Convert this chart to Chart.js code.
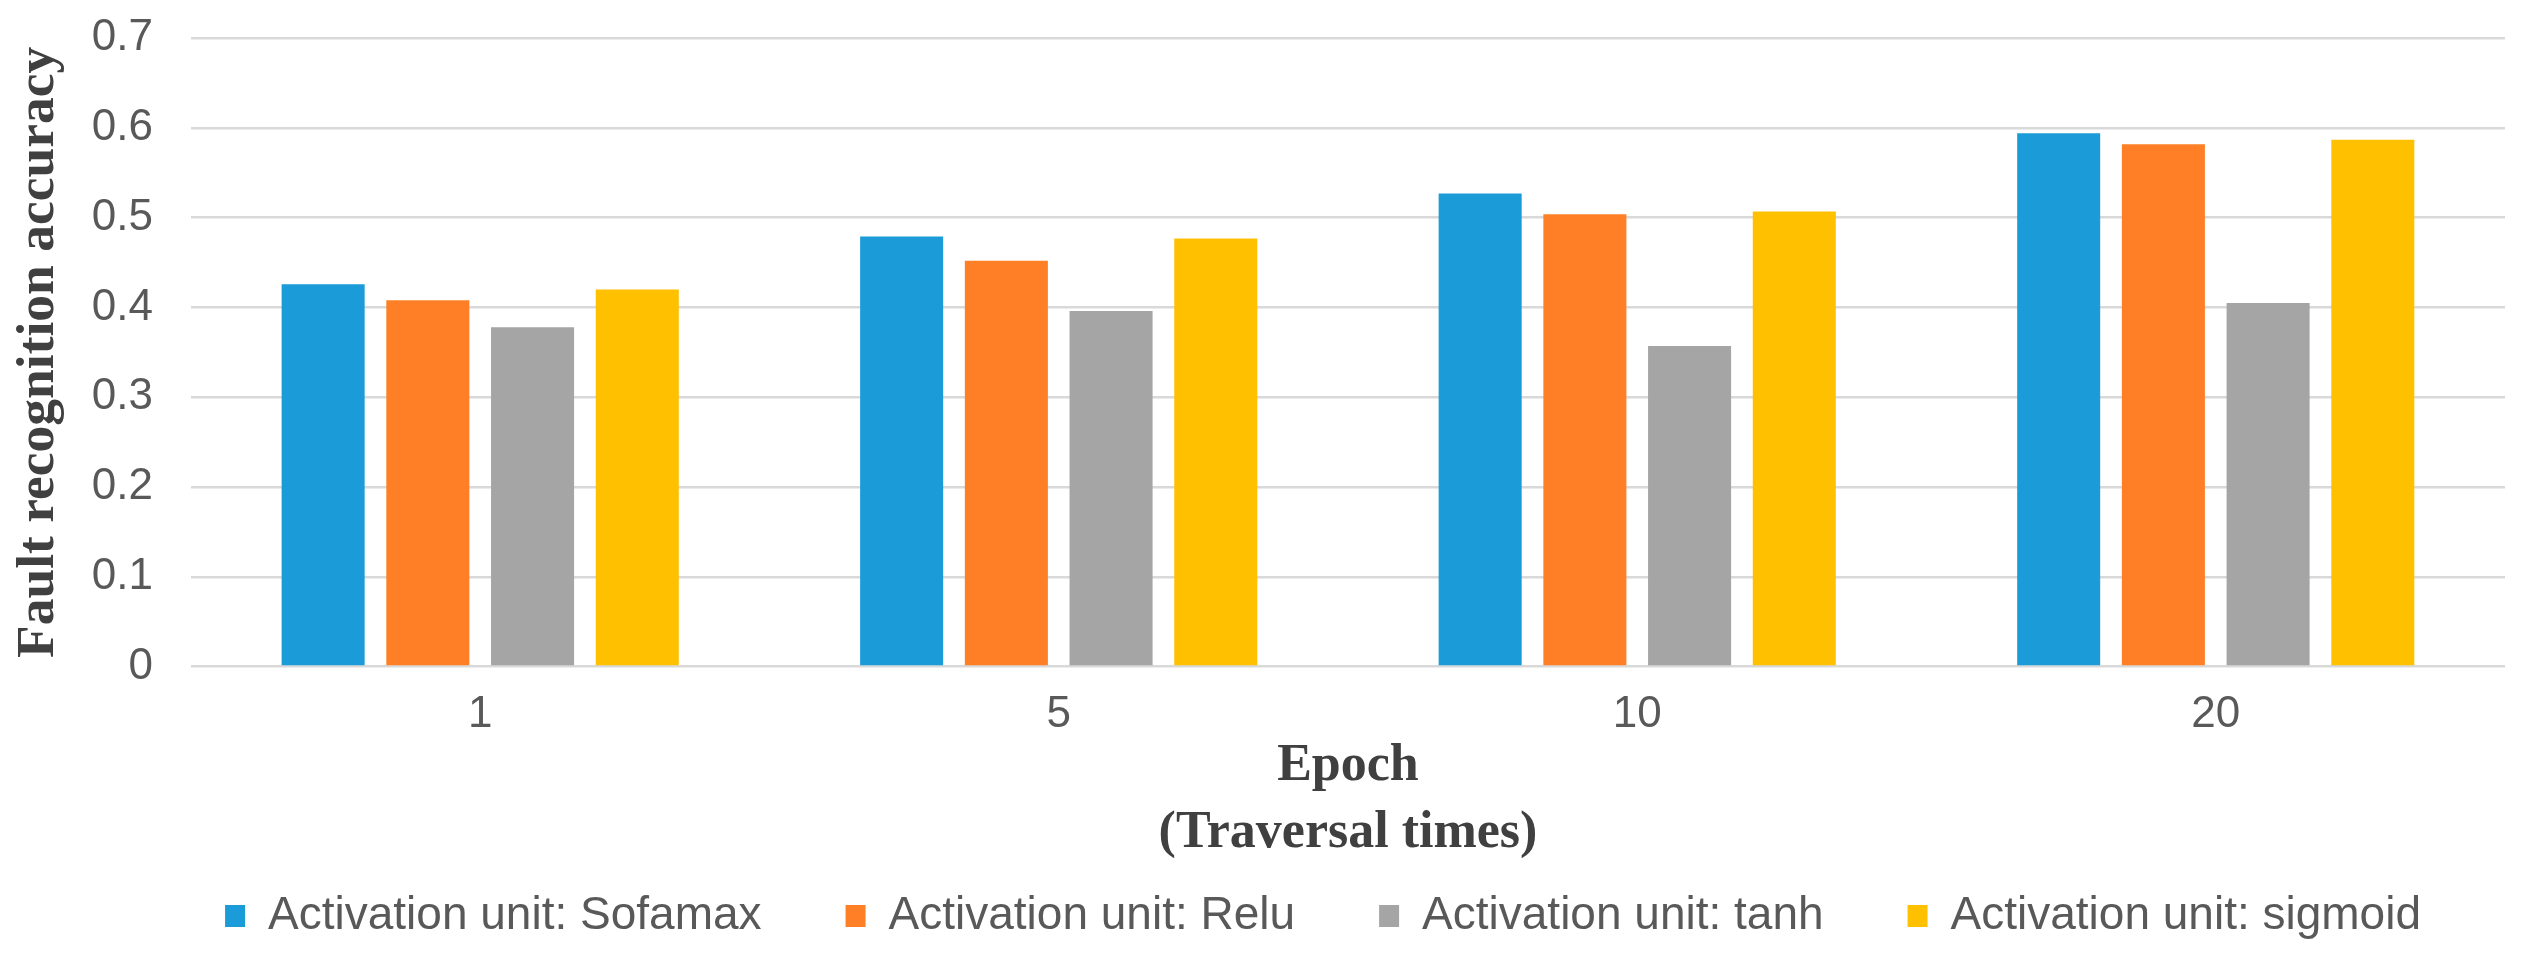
<!DOCTYPE html>
<html>
<head>
<meta charset="utf-8">
<script src="https://cdn.jsdelivr.net/npm/chart.js@4/dist/chart.umd.min.js"></script>
<style>
  body { margin: 0; background: #fff; }
</style>
</head>
<body>
<canvas id="bar-chart" width="2522" height="957"></canvas>
<script>
// values
var epochs = ['1', '5', '10', '20'];
var sofamaxAcc = [0.426, 0.479, 0.527, 0.594];
var reluAcc = [0.408, 0.452, 0.504, 0.582];
var tanhAcc = [0.378, 0.396, 0.357, 0.405];
var sigmoidAcc = [0.420, 0.477, 0.507, 0.587];
var yTickLabels = ['0', '0.1', '0.2', '0.3', '0.4', '0.5', '0.6', '0.7'];

var xTickFont = { family: 'Liberation Sans', size: 44, lineHeight: 0.8 };
// lineHeight ~0 keeps the top label from pushing the plot down
var yTickFont = { family: 'Liberation Sans', size: 44, lineHeight: 0.01 };
var xTitleFont = { family: 'Liberation Serif', size: 52, weight: 'bold', lineHeight: 1.29 };
var yTitleFont = { family: 'Liberation Serif', size: 53.5, weight: 'bold', lineHeight: 1.25 };

var data = {
    labels: epochs,
    datasets: [
        { label: 'Activation unit: Sofamax', data: sofamaxAcc, backgroundColor: '#1b9bd7' },
        { label: 'Activation unit: Relu', data: reluAcc, backgroundColor: '#fe7f26' },
        { label: 'Activation unit: tanh', data: tanhAcc, backgroundColor: '#a5a5a5' },
        { label: 'Activation unit: sigmoid', data: sigmoidAcc, backgroundColor: '#ffc000' }
    ]
};

var options = {
    responsive: false,
    animation: false,
    devicePixelRatio: 1,
    layout: {
        padding: { top: 0, right: 17, bottom: 8, left: 0 }
    },
    datasets: {
        bar: { categoryPercentage: 0.724, barPercentage: 0.793 }
    },
    plugins: {
        tooltip: { enabled: false },
        legend: {
            position: 'bottom',
            align: 'end',
            labels: {
                boxWidth: 20,
                boxHeight: 22,
                padding: 84,
                color: '#595959',
                font: { family: 'Liberation Sans', size: 46 }
            }
        }
    },
    scales: {
        x: {
            grid: { display: false, drawTicks: false },
            border: { display: false },
            ticks: { color: '#595959', font: xTickFont, padding: 31 },
            title: {
                display: true,
                text: ['Epoch', '(Traversal times)'],
                color: '#404040',
                font: xTitleFont,
                padding: { top: -30.9, bottom: -58 }
            }
        },
        y: {
            min: 0,
            max: 0.7,
            border: { display: false },
            grid: { color: '#d9d9d9', lineWidth: 2.5, drawTicks: false },
            ticks: {
                stepSize: 0.1,
                color: '#595959',
                font: yTickFont,
                padding: 38,
                callback: function(value, index) { return yTickLabels[index]; }
            },
            title: {
                display: true,
                text: 'Fault recognition accuracy',
                color: '#404040',
                font: yTitleFont,
                padding: { top: 5.6, bottom: -18.7 }
            }
        }
    }
};

var bc = new Chart(document.getElementById('bar-chart'), {
    type: 'bar',
    data: data,
    options: options
});
</script>
</body>
</html>
